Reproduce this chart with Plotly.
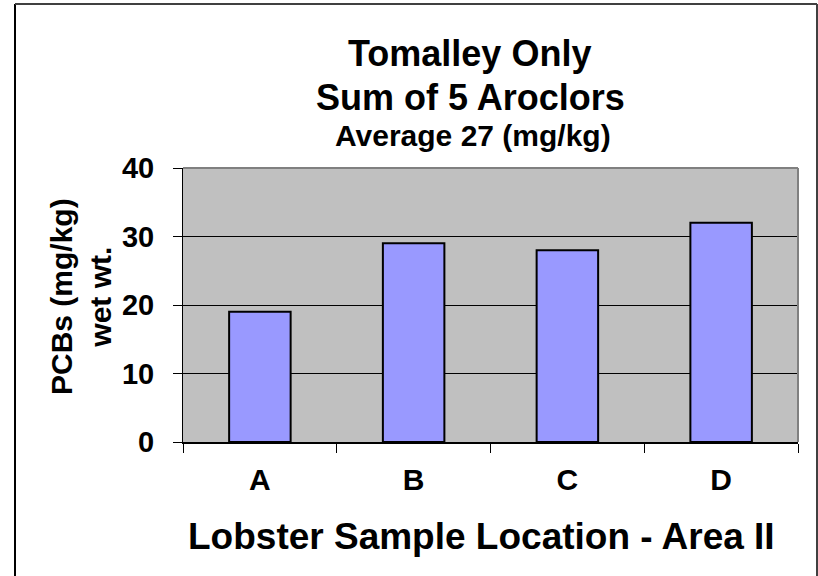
import plotly.graph_objects as go

locations = ['A', 'B', 'C', 'D']
pcbs = [19, 29, 28, 32]
y_ticks = [0, 10, 20, 30, 40]

W, H = 818, 576
L, R, T, B = 183, 20, 168, 134
pw, ph = W - L - R, H - T - B


def px(x):
    return (x - L) / pw


def py(y):
    return (H - B - y) / ph


font = dict(family='Liberation Sans, Arial, sans-serif', color='black', weight='bold')

fig = go.Figure()
fig.add_trace(go.Bar(x=locations, y=pcbs, marker_color='#9999FF',
                     marker_line_color='black', marker_line_width=2))

fig.update_layout(
    width=W, height=H,
    margin=dict(l=L, r=R, t=T, b=B),
    paper_bgcolor='white', plot_bgcolor='#C0C0C0',
    bargap=0.6, showlegend=False,
    font=font,
)
fig.update_yaxes(range=[0, 40], tickvals=y_ticks, showgrid=True, gridcolor='black',
                 gridwidth=1, showline=True, linecolor='black', linewidth=1,
                 ticks='outside', ticklen=9, tickcolor='black', zeroline=False,
                 tickfont=dict(size=29, **font), ticklabelstandoff=13)
fig.update_xaxes(showline=True, linecolor='black', linewidth=1.5, ticks='outside',
                 tickson='boundaries', ticklen=9, tickcolor='black',
                 tickfont=dict(size=30, **font), ticklabelstandoff=10)


def label(text, x, y, size, angle=0):
    fig.add_annotation(text=text, x=px(x), y=py(y), xref='paper', yref='paper',
                       xanchor='center', yanchor='middle', showarrow=False,
                       textangle=angle, font=dict(size=size, **font))


# chart titles
label('Tomalley Only', 469, 53, 36)
label('Sum of 5 Aroclors', 470, 97, 36)
label('Average 27 (mg/kg)', 473, 135, 30)
label('PCBs (mg/kg)<br>wet wt.', 81, 297, 30, angle=-90)
label('Lobster Sample Location - Area II', 481, 536, 37)

# plot area border (top, right) and outer frame
fig.add_shape(type='line', xref='paper', yref='paper', x0=0, x1=1, y0=1, y1=1,
              line=dict(color='#808080', width=2), layer='above')
fig.add_shape(type='line', xref='paper', yref='paper', x0=1, x1=1, y0=0, y1=1,
              line=dict(color='#808080', width=2), layer='above')
fig.add_shape(type='line', xref='paper', yref='paper', x0=px(15), x1=px(15), y0=py(4), y1=py(576),
              line=dict(color='black', width=2))
fig.add_shape(type='line', xref='paper', yref='paper', x0=px(15), x1=px(817), y0=py(4), y1=py(4),
              line=dict(color='#404040', width=2))
fig.add_shape(type='line', xref='paper', yref='paper', x0=px(817), x1=px(817), y0=py(4), y1=py(576),
              line=dict(color='#404040', width=2))

fig.write_html('out.html', config={'displayModeBar': False},
               post_script="document.body.style.margin='0px';")
